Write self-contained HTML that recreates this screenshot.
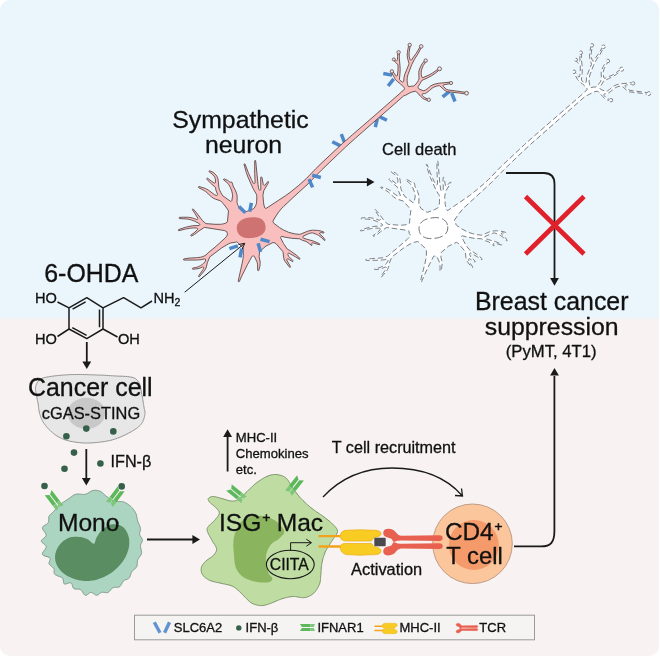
<!DOCTYPE html>
<html lang="en"><head><meta charset="utf-8"><title>Graphical abstract</title>
<style>
html,body{margin:0;padding:0;background:#fff}
body{width:660px;height:656px;overflow:hidden}
svg{display:block;will-change:transform}
text{font-family:"Liberation Sans",sans-serif;fill:#111;stroke:#111;stroke-width:0.3px}
</style></head><body>
<svg width="660" height="656" viewBox="0 0 660 656">
<defs>
<clipPath id="card"><rect x="0" y="0" width="659" height="656" rx="10" ry="10"/></clipPath>
<linearGradient id="bg" x1="0" y1="0" x2="0" y2="656" gradientUnits="userSpaceOnUse"><stop offset="0" stop-color="#eaf5fc"/><stop offset="0.4832" stop-color="#eaf5fc"/><stop offset="0.4880" stop-color="#f8f2f2"/><stop offset="1" stop-color="#f8f2f2"/></linearGradient>

</defs>
<rect x="0" y="0" width="660" height="656" fill="url(#bg)" clip-path="url(#card)"/>
<g><line x1="383.3" y1="73.5" x2="392.1" y2="75.1" stroke="#4f88c8" stroke-width="3.5"/><line x1="388.1" y1="86.0" x2="393.7" y2="78.9" stroke="#4f88c8" stroke-width="3.5"/><line x1="442.6" y1="96.9" x2="449.6" y2="91.3" stroke="#4f88c8" stroke-width="3.5"/><line x1="451.7" y1="93.2" x2="455.0" y2="101.5" stroke="#4f88c8" stroke-width="3.5"/><line x1="375.3" y1="127.1" x2="377.4" y2="118.3" stroke="#4f88c8" stroke-width="3.5"/><line x1="378.9" y1="116.4" x2="386.9" y2="120.3" stroke="#4f88c8" stroke-width="3.5"/><line x1="332.3" y1="141.8" x2="340.5" y2="145.9" stroke="#4f88c8" stroke-width="3.5"/><line x1="341.3" y1="134.1" x2="344.5" y2="142.5" stroke="#4f88c8" stroke-width="3.5"/></g>
<path d="M196.7 228.0L197.2 228.2L197.5 228.6L197.6 229.1L197.4 229.7L194.0 232.9L190.9 235.0L190.7 235.4L191.0 235.9L191.5 236.0L194.5 234.4L199.1 230.9L204.1 227.5L204.6 227.4L224.2 230.5L226.7 231.5L227.0 232.0L227.0 233.0L227.6 234.1L226.7 236.2L225.0 238.2L215.0 247.2L208.2 252.7L205.9 255.1L203.1 256.5L200.8 257.2L196.4 257.7L189.1 258.1L183.9 258.9L183.5 259.1L183.4 259.8L184.0 260.1L197.4 260.0L201.2 259.7L204.6 258.9L205.5 259.2L205.7 260.0L205.0 261.8L203.8 263.2L202.4 264.4L200.4 265.7L198.7 266.6L196.6 267.3L192.8 268.1L192.3 268.5L192.4 269.0L192.8 269.3L195.6 269.0L199.4 268.4L202.6 267.0L203.2 267.0L203.7 267.4L203.8 268.1L203.2 269.3L198.5 276.1L198.5 276.5L198.8 276.8L199.4 276.7L201.4 274.4L204.3 270.9L205.6 269.1L206.4 266.9L207.3 262.8L209.8 256.9L221.7 247.9L226.1 245.2L228.8 243.7L230.9 242.9L235.2 242.3L236.5 241.9L237.2 242.2L243.0 248.0L243.3 248.7L243.2 250.0L243.4 255.3L243.1 258.4L242.2 263.1L238.9 277.9L238.2 281.3L238.6 281.8L239.0 281.9L239.3 281.6L241.9 275.8L247.7 264.2L251.9 256.6L252.4 256.1L253.6 255.9L254.3 256.3L256.5 260.9L257.2 262.5L257.5 264.2L257.7 270.3L258.2 270.8L258.7 270.6L259.8 266.7L260.2 263.6L260.0 261.1L259.1 256.8L259.6 251.6L266.0 246.0L273.0 242.5L274.7 242.9L276.1 243.7L282.9 251.7L283.1 252.2L283.6 257.2L284.2 259.9L285.3 261.7L289.5 267.2L289.9 267.4L290.3 267.3L290.6 267.0L290.5 266.6L286.8 260.2L286.8 259.4L287.3 258.9L288.1 258.9L292.5 261.6L293.0 261.4L293.2 260.9L288.6 256.3L287.8 254.3L287.8 253.8L288.1 253.4L288.6 253.2L289.2 253.3L295.5 256.8L299.3 259.2L299.9 259.1L300.1 258.6L296.1 254.9L290.1 250.7L287.2 249.0L283.5 243.5L280.6 237.8L280.6 237.1L280.9 236.6L281.7 236.4L285.1 237.2L291.9 238.3L299.6 238.8L302.8 240.5L306.1 241.4L308.5 243.1L311.6 245.5L312.0 245.4L312.1 245.0L311.7 244.2L311.7 243.5L312.0 243.1L312.5 242.8L319.2 244.7L319.7 244.6L319.8 244.1L319.5 243.7L313.3 241.0L306.1 239.0L303.9 238.2L303.1 237.8L302.8 237.4L302.8 236.8L303.0 236.3L308.2 233.8L310.5 233.1L312.4 232.8L316.5 234.3L318.6 235.4L321.9 237.9L324.3 240.5L324.9 240.4L325.1 239.9L323.0 236.9L319.7 233.9L319.7 233.0L320.4 232.5L323.5 233.0L324.0 232.8L324.0 232.4L323.8 232.0L321.5 231.2L317.8 230.4L312.4 230.2L310.0 230.6L307.4 231.3L299.8 234.4L294.3 233.8L288.6 232.3L283.5 230.0L279.4 227.5L273.7 223.1L273.0 221.9L272.9 221.3L274.7 218.0L278.6 212.1L281.2 208.9L283.7 206.4L293.1 197.5L308.0 183.9L321.8 169.8L345.5 147.1L355.6 138.0L403.8 95.8L405.2 95.4L411.2 92.2L415.3 91.2L416.3 91.6L420.4 96.2L422.5 98.2L424.5 99.4L426.8 100.2L427.2 100.2L427.7 99.7L427.6 99.0L424.9 97.7L423.6 96.8L422.1 95.2L422.0 94.6L422.3 94.1L422.8 93.7L424.6 93.6L426.3 92.9L429.3 90.7L432.1 88.2L433.9 87.1L436.4 86.2L439.0 85.6L439.7 85.8L445.0 90.6L446.1 91.2L447.4 91.7L459.2 93.0L464.4 93.8L465.2 93.4L465.2 92.6L464.7 92.2L461.5 91.7L448.5 90.0L446.4 89.3L443.3 86.4L443.1 85.9L443.1 85.3L443.8 84.8L449.9 83.7L450.2 83.3L450.3 82.8L450.0 82.4L449.6 82.2L438.3 83.3L434.0 84.3L431.0 85.7L427.2 88.9L425.4 90.1L424.0 90.7L423.1 90.7L418.7 88.8L418.4 88.4L418.1 87.3L418.1 86.6L420.1 83.6L421.7 80.5L427.1 78.1L431.5 75.8L435.2 73.3L438.0 71.1L438.3 70.7L438.3 70.2L438.0 69.8L437.2 69.8L432.7 72.9L429.9 74.6L423.1 77.6L422.1 77.5L421.8 76.9L421.3 74.4L421.2 72.4L421.4 70.8L422.0 68.5L423.3 65.5L425.8 61.8L425.7 61.1L425.1 60.7L424.4 60.9L422.0 64.0L420.7 66.3L419.6 69.0L419.0 70.8L418.8 72.3L419.0 78.8L418.4 80.4L417.5 82.0L416.0 84.0L413.9 86.0L411.2 86.2L409.0 86.7L408.3 86.5L408.0 86.0L407.4 83.5L407.1 80.5L407.3 77.3L407.9 74.8L411.8 64.5L414.5 59.2L418.1 53.7L421.3 47.5L421.2 47.1L420.8 46.7L420.3 46.7L419.9 47.0L416.2 53.4L413.6 56.8L411.7 59.9L411.3 60.2L410.8 60.2L410.4 60.0L410.1 59.7L409.1 56.1L409.1 52.6L410.1 46.5L409.7 45.8L408.9 45.8L408.5 46.3L407.8 49.9L407.4 52.5L407.2 55.2L407.5 58.2L409.1 63.8L404.6 74.8L404.0 77.6L403.7 81.2L403.4 81.7L402.8 82.1L402.2 81.9L399.7 80.1L399.4 79.5L400.0 73.1L400.2 68.7L399.3 57.9L399.4 53.4L399.3 53.0L398.9 52.7L398.2 52.8L397.8 53.3L397.5 56.7L397.6 59.6L397.4 60.2L396.9 60.6L396.3 60.5L394.4 59.2L393.8 59.4L393.5 59.9L393.7 60.5L396.3 63.0L398.0 64.9L398.0 70.2L397.4 75.6L396.7 76.0L395.9 75.8L394.0 73.0L392.5 71.1L391.6 71.0L391.1 71.7L391.2 72.2L395.4 79.3L397.2 81.4L400.5 83.9L404.2 87.7L404.6 88.7L404.4 89.4L402.3 91.0L401.4 92.1L395.1 97.6L373.1 116.9L352.7 134.5L342.1 143.8L321.0 163.6L315.9 168.6L306.2 178.7L298.9 185.3L291.0 191.7L285.7 195.6L266.3 208.3L265.5 208.4L264.9 208.0L263.9 205.0L263.6 202.9L262.9 195.4L263.8 190.7L268.6 182.4L268.7 182.0L268.3 181.5L267.8 181.6L265.0 185.1L264.3 185.4L263.8 185.2L263.3 184.6L261.9 177.3L261.5 176.9L260.9 177.0L260.7 177.5L260.8 189.3L260.6 189.8L260.1 190.0L259.4 190.0L258.9 189.7L258.6 188.7L258.0 184.3L255.7 161.0L255.5 160.5L254.9 160.5L254.7 161.0L254.7 173.4L255.1 182.6L254.9 183.2L254.4 183.5L253.9 183.5L253.3 183.2L251.5 179.7L248.6 173.4L245.0 164.0L244.4 163.8L244.0 164.2L246.3 172.6L248.0 177.2L253.2 188.8L256.6 194.6L256.8 196.6L256.7 201.2L256.4 203.4L255.9 205.1L254.2 208.2L253.0 209.0L245.4 211.9L244.6 211.7L240.0 208.9L237.7 204.8L237.0 202.5L237.2 197.3L236.9 194.5L235.7 191.0L233.0 185.9L232.6 184.1L231.9 182.2L231.4 182.0L230.6 182.3L230.0 182.2L227.5 180.3L224.3 178.9L223.8 178.9L223.5 179.3L223.6 179.9L226.8 182.3L228.9 184.8L230.3 187.3L231.8 191.1L232.5 194.3L232.6 196.1L231.8 200.6L231.4 201.1L230.8 201.3L230.2 201.1L224.1 196.7L222.8 195.9L220.9 192.8L219.3 189.3L218.8 186.9L218.0 179.1L217.6 177.8L216.8 176.1L215.2 174.1L213.1 172.3L209.8 170.8L209.2 170.9L209.0 171.4L209.1 171.8L211.9 173.8L214.0 176.1L214.8 177.2L215.4 179.4L215.5 182.6L214.9 183.1L214.1 183.1L207.5 178.2L206.9 178.3L206.7 179.0L210.5 183.1L215.4 187.3L216.1 190.8L217.6 194.3L217.4 195.0L217.0 195.4L216.4 195.5L214.2 194.5L208.3 190.0L205.2 188.4L199.1 186.5L198.5 186.7L198.4 187.3L198.7 187.7L203.2 190.0L205.8 191.6L211.2 196.6L213.2 198.1L215.5 199.2L220.6 200.8L223.1 203.5L226.6 207.9L228.5 210.9L227.4 221.8L227.0 222.4L225.2 223.3L223.2 223.9L220.6 224.3L215.0 224.3L205.9 223.6L202.5 220.7L196.7 212.9L193.3 209.1L192.9 208.9L192.4 209.2L192.4 209.7L195.3 214.0L197.7 218.1L197.8 218.7L197.4 219.4L196.6 219.5L192.3 217.9L188.4 217.3L183.6 217.2L179.4 217.4L179.0 217.7L179.0 218.2L179.4 218.6L185.9 218.9L188.8 219.3L191.7 220.1L194.6 221.2L198.2 223.0L199.4 223.7L199.8 224.6L199.5 225.1L199.0 225.5L192.8 225.7L185.7 227.2L178.5 229.6L178.2 230.1L178.5 230.6L178.9 230.7L185.3 229.1L189.7 228.3L193.6 227.9Z" fill="#f9bfbf" stroke="#5b4b4b" stroke-width="0.9" stroke-linejoin="round"/>
<circle cx="391.9" cy="71.4" r="1.7" fill="#f4dede" stroke="#5b4b4b" stroke-width="0.8"/>
<circle cx="398.6" cy="52.3" r="1.7" fill="#f4dede" stroke="#5b4b4b" stroke-width="0.8"/>
<circle cx="393.8" cy="59.4" r="1.5" fill="#f4dede" stroke="#5b4b4b" stroke-width="0.8"/>
<circle cx="409.7" cy="44.9" r="1.7" fill="#f4dede" stroke="#5b4b4b" stroke-width="0.8"/>
<circle cx="421.2" cy="46.4" r="1.8" fill="#f4dede" stroke="#5b4b4b" stroke-width="0.8"/>
<circle cx="425.7" cy="60.6" r="1.7" fill="#f4dede" stroke="#5b4b4b" stroke-width="0.8"/>
<circle cx="439.5" cy="68.8" r="2.0" fill="#f4dede" stroke="#5b4b4b" stroke-width="0.8"/>
<circle cx="451.0" cy="83.0" r="1.6" fill="#f4dede" stroke="#5b4b4b" stroke-width="0.8"/>
<circle cx="466.6" cy="93.2" r="1.9" fill="#f4dede" stroke="#5b4b4b" stroke-width="0.8"/>
<circle cx="428.8" cy="99.8" r="1.7" fill="#f4dede" stroke="#5b4b4b" stroke-width="0.8"/>
<path d="M265.5 225.9L265.6 227.4L265.5 228.6L265.3 229.7L265.0 230.8L264.5 231.7L263.9 232.7L263.1 233.6L262.2 234.4L261.2 235.1L260.1 235.8L258.9 236.3L257.5 236.9L256.1 237.3L254.5 237.6L252.5 237.9L250.4 238.1L248.8 238.2L247.3 238.1L245.8 238.0L244.5 237.7L243.2 237.3L242.1 236.8L241.0 236.3L240.1 235.6L239.3 234.8L238.6 234.0L238.0 233.1L237.5 232.0L237.2 230.9L236.9 229.5L236.8 228.0L236.9 226.8L237.1 225.7L237.4 224.6L237.9 223.7L238.5 222.7L239.3 221.8L240.2 221.0L241.2 220.3L242.3 219.6L243.5 219.1L244.9 218.5L246.3 218.1L247.9 217.8L249.9 217.5L252.0 217.3L253.6 217.2L255.1 217.3L256.6 217.4L257.9 217.7L259.2 218.1L260.3 218.6L261.4 219.1L262.3 219.8L263.1 220.6L263.8 221.4L264.4 222.3L264.9 223.4L265.2 224.5Z" fill="#cf7272"/>
<g><line x1="309.0" y1="179.1" x2="312.6" y2="187.4" stroke="#4f88c8" stroke-width="3.5"/><line x1="312.2" y1="175.2" x2="320.8" y2="177.5" stroke="#4f88c8" stroke-width="3.5"/><line x1="239.0" y1="206.4" x2="245.3" y2="212.7" stroke="#4f88c8" stroke-width="3.5"/><line x1="251.4" y1="202.8" x2="249.7" y2="211.6" stroke="#4f88c8" stroke-width="3.5"/><line x1="260.5" y1="239.3" x2="269.6" y2="241.6" stroke="#4f88c8" stroke-width="3.5"/><line x1="258.1" y1="243.3" x2="260.6" y2="252.0" stroke="#4f88c8" stroke-width="3.5"/><line x1="229.4" y1="248.7" x2="237.9" y2="245.8" stroke="#4f88c8" stroke-width="3.5"/><line x1="241.7" y1="248.6" x2="240.0" y2="257.4" stroke="#4f88c8" stroke-width="3.5"/></g>
<g transform="translate(182.2 0.4)"><path d="M197.2 227.8L197.7 228.0L198.0 228.4L198.1 228.9L198.0 229.4L194.1 233.0L191.0 235.0L190.8 235.4L191.0 235.8L191.5 235.9L194.5 234.4L198.5 231.2L203.9 227.4L205.0 227.1L223.3 229.7L225.8 230.2L226.5 230.5L226.9 230.9L227.0 233.0L228.1 234.4L228.3 234.9L228.1 235.5L227.1 236.8L224.8 239.2L214.5 248.1L208.5 253.0L206.4 255.1L205.2 255.8L202.7 256.9L200.8 257.4L196.5 257.8L189.1 258.2L183.9 259.0L183.6 259.2L183.5 259.7L184.0 260.0L197.5 259.8L201.9 259.4L204.9 258.5L205.8 258.8L206.1 259.6L205.4 261.4L204.4 262.9L203.0 264.2L200.6 265.8L198.8 266.7L196.7 267.4L192.8 268.2L192.4 268.5L192.5 269.0L192.9 269.2L196.9 268.8L200.4 267.8L202.9 266.6L203.5 266.6L204.0 266.9L204.2 267.6L203.7 268.8L198.6 276.1L198.6 276.4L198.8 276.7L199.3 276.6L201.3 274.3L204.2 270.9L205.4 269.0L206.3 266.8L207.1 262.7L209.6 256.6L220.8 248.0L225.1 245.2L230.2 242.4L231.9 241.9L235.3 241.1L235.9 241.3L237.1 242.1L243.9 248.9L244.2 249.6L244.2 255.0L243.7 258.4L242.7 263.2L239.0 278.0L238.3 281.2L238.6 281.8L239.0 281.8L239.3 281.5L241.4 276.4L246.9 264.6L251.4 255.9L252.2 255.6L253.0 256.0L253.9 255.6L254.4 255.9L254.7 256.2L256.8 260.7L257.5 262.8L257.9 266.0L257.8 270.3L258.1 270.7L258.5 270.7L258.8 270.3L259.5 267.2L259.9 263.6L259.8 261.2L258.7 256.8L259.0 252.1L266.0 246.0L274.0 242.0L274.6 242.0L275.3 242.4L276.5 243.3L283.1 251.3L283.7 257.0L284.4 259.8L285.1 261.1L289.6 267.1L290.2 267.3L290.5 267.0L290.5 266.6L286.5 260.2L286.2 259.4L286.3 258.8L286.8 258.4L287.5 258.3L292.4 261.5L292.9 261.4L293.1 260.9L288.5 256.4L287.4 253.9L287.4 253.3L287.7 252.9L288.2 252.6L288.8 252.7L295.6 256.7L299.3 259.2L299.8 259.1L300.0 258.5L297.4 256.1L295.5 254.6L289.5 250.6L286.8 249.0L283.1 243.7L281.1 239.8L279.3 236.9L279.2 236.2L279.5 235.7L280.3 235.4L285.2 236.7L291.9 237.9L299.4 238.4L302.9 240.3L306.1 241.2L308.6 243.0L311.6 245.5L311.9 245.3L312.0 244.9L311.4 244.0L311.3 243.4L311.5 242.9L312.1 242.6L319.2 244.6L319.6 244.5L319.7 244.1L319.5 243.8L313.2 241.2L306.0 239.2L303.8 238.4L302.4 237.5L302.3 236.8L302.6 236.2L308.1 233.6L310.0 233.0L312.3 232.5L316.5 234.1L318.2 235.0L321.6 237.5L324.3 240.4L324.8 240.4L325.0 239.9L322.8 236.9L319.2 233.7L319.2 232.9L319.9 232.3L323.5 233.0L323.9 232.7L323.9 232.3L323.7 232.1L321.1 231.2L316.8 230.5L314.2 230.4L311.9 230.5L309.5 230.9L306.7 231.7L299.7 234.8L294.9 234.3L290.0 233.2L284.8 231.3L279.6 228.5L274.3 224.9L273.9 224.5L273.5 223.0L272.3 220.3L272.3 219.7L277.1 212.7L281.8 207.3L307.7 183.6L321.5 169.5L337.9 153.7L348.6 143.7L403.7 95.3L405.0 95.0L411.0 91.8L412.8 91.2L415.2 90.8L416.3 91.3L420.5 96.1L422.6 98.1L424.6 99.3L427.2 100.1L427.6 99.7L427.5 99.1L424.8 97.9L423.4 96.8L421.7 94.9L421.6 94.3L421.8 93.8L422.4 93.4L424.0 93.5L425.7 92.9L428.7 90.9L431.6 88.4L432.9 87.5L435.7 86.2L439.1 85.4L439.8 85.6L445.0 90.4L446.1 91.1L447.4 91.5L459.2 92.9L464.5 93.7L465.1 93.4L465.1 92.7L464.7 92.3L461.5 91.8L447.8 90.0L446.0 89.1L442.8 86.1L442.8 85.3L443.4 84.7L449.8 83.6L450.1 83.3L450.2 82.8L450.0 82.5L449.5 82.3L438.4 83.5L434.0 84.5L431.2 85.9L427.3 89.1L425.5 90.4L424.0 91.0L423.0 90.9L418.4 88.9L418.0 88.5L417.6 87.4L417.7 86.7L419.8 83.6L421.5 80.4L426.3 78.3L431.4 75.7L434.4 73.7L437.9 71.0L438.2 70.7L437.9 70.0L437.2 69.9L432.8 73.1L430.0 74.8L423.1 77.7L422.5 77.9L421.9 77.7L421.6 77.1L421.1 74.4L421.0 72.4L421.2 70.7L421.9 68.4L423.2 65.4L425.6 61.7L425.6 61.1L425.1 60.8L424.5 61.0L422.2 64.1L420.9 66.4L419.7 69.1L419.2 70.8L419.0 72.4L419.2 78.9L418.6 80.5L417.7 82.1L416.2 84.2L413.8 86.5L411.0 86.7L408.8 87.3L408.1 87.0L407.8 86.5L407.3 84.4L406.9 81.2L406.9 78.0L407.6 74.7L411.4 64.7L414.3 59.1L418.0 53.7L421.2 47.5L421.1 47.1L420.7 46.9L420.3 46.8L420.0 47.1L416.7 52.9L413.7 56.9L411.8 60.2L411.3 60.6L410.8 60.6L410.3 60.5L410.0 60.0L409.0 56.1L409.0 52.6L410.0 46.5L409.7 45.9L409.0 45.9L408.6 46.3L407.8 50.8L407.5 53.2L407.4 55.7L407.8 58.9L409.3 63.8L404.9 74.9L404.3 77.7L404.0 81.7L403.7 82.2L403.2 82.5L402.5 82.5L399.5 80.2L399.2 79.6L399.9 73.1L400.0 69.5L399.8 64.5L399.1 58.0L399.3 53.5L398.8 52.9L398.3 52.9L397.9 53.4L397.7 56.7L397.8 59.9L397.6 60.5L397.1 60.8L396.4 60.9L394.4 59.4L393.9 59.5L393.7 60.0L393.8 60.4L396.4 62.9L398.1 64.9L398.1 71.0L397.7 75.0L397.5 76.2L396.7 76.6L395.9 76.3L394.2 73.5L392.4 71.2L391.7 71.1L391.3 71.8L391.4 72.2L395.5 79.2L397.3 81.2L400.6 83.8L404.6 87.7L405.0 88.9L404.7 89.6L402.6 91.3L401.9 92.2L392.0 100.9L352.9 134.8L342.4 144.1L318.5 166.5L306.5 179.0L301.1 183.9L295.2 188.9L287.7 194.9L265.8 210.0L265.0 210.1L264.4 209.6L263.4 206.1L263.0 203.8L262.5 196.1L263.6 190.7L268.5 182.4L268.6 182.0L268.3 181.6L267.8 181.7L264.8 185.5L264.3 185.8L263.6 185.7L263.2 185.0L261.8 177.3L261.4 177.0L260.9 177.1L260.8 177.5L261.1 187.8L261.0 189.8L260.7 190.4L260.2 190.6L259.3 190.5L258.8 190.2L258.4 188.7L257.6 182.6L255.7 161.0L255.5 160.6L255.0 160.6L254.7 161.0L254.9 173.4L255.4 183.6L255.2 184.1L254.6 184.5L254.0 184.5L253.5 184.1L250.5 178.1L247.9 172.0L244.9 164.1L244.4 163.9L244.1 164.2L246.5 172.5L248.2 177.1L253.4 188.7L254.9 191.5L257.1 195.0L257.3 196.6L257.3 201.3L257.1 203.6L256.6 205.5L255.7 207.5L253.0 209.0L245.4 211.9L244.6 211.7L238.9 208.2L237.6 205.8L236.9 204.2L236.6 202.7L236.8 197.3L236.5 194.7L235.4 191.1L232.8 186.1L232.5 184.1L231.8 182.2L231.4 182.1L230.5 182.5L230.0 182.4L226.9 180.2L224.2 179.0L223.9 179.0L223.6 179.3L223.7 179.9L226.9 182.2L229.0 184.7L230.5 187.2L232.1 191.1L232.9 194.2L233.0 196.2L232.0 201.6L231.7 202.1L231.0 202.3L230.5 202.1L223.9 197.0L222.8 196.4L220.6 192.9L219.0 189.3L218.5 187.0L218.0 180.3L217.5 178.0L217.1 177.0L215.6 174.8L213.1 172.5L209.8 170.9L209.2 171.0L209.1 171.4L209.2 171.8L212.0 173.7L214.2 176.0L214.9 177.1L215.7 179.4L215.7 183.0L215.2 183.6L214.4 183.5L207.6 178.3L207.0 178.4L206.8 179.0L210.7 183.0L215.7 187.2L216.4 190.8L218.1 194.7L218.0 195.6L217.5 195.9L217.0 196.0L214.8 195.2L213.0 194.1L208.2 190.2L205.1 188.5L199.1 186.6L198.6 186.7L198.5 187.3L198.8 187.6L203.3 189.8L205.9 191.4L211.3 196.4L213.5 197.9L215.8 199.0L221.0 200.6L226.7 206.9L228.2 208.9L228.7 209.9L228.0 215.0L227.3 222.7L226.8 223.4L225.1 224.0L222.6 224.5L219.9 224.8L214.2 224.6L205.9 223.9L203.6 222.1L202.3 220.8L196.6 213.0L193.0 209.0L192.5 209.2L192.5 209.8L195.4 213.9L198.2 218.6L198.3 219.2L197.8 219.8L197.1 219.9L192.3 218.1L188.4 217.4L183.6 217.3L179.4 217.5L179.1 217.7L179.0 218.2L179.4 218.5L185.9 218.7L188.9 219.2L191.7 219.9L194.6 221.0L198.3 222.8L200.1 223.9L200.4 224.7L200.2 225.2L199.6 225.6L197.3 225.8L192.8 225.9L185.8 227.3L178.6 229.6L178.3 230.1L178.5 230.5L178.9 230.6L185.3 228.9L189.7 228.1L193.6 227.7Z" fill="#ffffff" stroke="#6b7278" stroke-width="0.9" stroke-dasharray="5.5 2.8"/>
<circle cx="391.9" cy="71.4" r="1.7" fill="#fff" stroke="#6b7278" stroke-width="0.9" stroke-dasharray="3.5 2.5"/>
<circle cx="398.6" cy="52.3" r="1.7" fill="#fff" stroke="#6b7278" stroke-width="0.9" stroke-dasharray="3.5 2.5"/>
<circle cx="393.8" cy="59.4" r="1.5" fill="#fff" stroke="#6b7278" stroke-width="0.9" stroke-dasharray="3.5 2.5"/>
<circle cx="409.7" cy="44.9" r="1.7" fill="#fff" stroke="#6b7278" stroke-width="0.9" stroke-dasharray="3.5 2.5"/>
<circle cx="421.2" cy="46.4" r="1.8" fill="#fff" stroke="#6b7278" stroke-width="0.9" stroke-dasharray="3.5 2.5"/>
<circle cx="425.7" cy="60.6" r="1.7" fill="#fff" stroke="#6b7278" stroke-width="0.9" stroke-dasharray="3.5 2.5"/>
<circle cx="439.5" cy="68.8" r="2.0" fill="#fff" stroke="#6b7278" stroke-width="0.9" stroke-dasharray="3.5 2.5"/>
<circle cx="451.0" cy="83.0" r="1.6" fill="#fff" stroke="#6b7278" stroke-width="0.9" stroke-dasharray="3.5 2.5"/>
<circle cx="466.6" cy="93.2" r="1.9" fill="#fff" stroke="#6b7278" stroke-width="0.9" stroke-dasharray="3.5 2.5"/>
<circle cx="428.8" cy="99.8" r="1.7" fill="#fff" stroke="#6b7278" stroke-width="0.9" stroke-dasharray="3.5 2.5"/>
<path d="M265.5 225.9L265.6 227.4L265.5 228.6L265.3 229.7L265.0 230.8L264.5 231.7L263.9 232.7L263.1 233.6L262.2 234.4L261.2 235.1L260.1 235.8L258.9 236.3L257.5 236.9L256.1 237.3L254.5 237.6L252.5 237.9L250.4 238.1L248.8 238.2L247.3 238.1L245.8 238.0L244.5 237.7L243.2 237.3L242.1 236.8L241.0 236.3L240.1 235.6L239.3 234.8L238.6 234.0L238.0 233.1L237.5 232.0L237.2 230.9L236.9 229.5L236.8 228.0L236.9 226.8L237.1 225.7L237.4 224.6L237.9 223.7L238.5 222.7L239.3 221.8L240.2 221.0L241.2 220.3L242.3 219.6L243.5 219.1L244.9 218.5L246.3 218.1L247.9 217.8L249.9 217.5L252.0 217.3L253.6 217.2L255.1 217.3L256.6 217.4L257.9 217.7L259.2 218.1L260.3 218.6L261.4 219.1L262.3 219.8L263.1 220.6L263.8 221.4L264.4 222.3L264.9 223.4L265.2 224.5Z" fill="none" stroke="#6b7278" stroke-width="1" stroke-dasharray="8.5 3.2"/></g>
<text x="240.5" y="128.3" font-size="24.8" text-anchor="middle" >Sympathetic</text>
<text x="243.5" y="152.7" font-size="24.8" text-anchor="middle" >neuron</text>
<text x="419.2" y="155.0" font-size="16.5" text-anchor="middle" >Cell death</text>
<text x="91.3" y="281.6" font-size="24.9" text-anchor="middle" >6-OHDA</text>
<g stroke="#1a1a1a" stroke-width="1.8" fill="none">
<path d="M333 182.1H368"/>
<path d="M506 173H544Q554.5 173 554.5 184V278"/>
<path d="M554.4 376V531C554.4 542 551 546.4 541 546.4H514"/>
<path d="M86.8 342V362"/>
<path d="M86.3 449V478"/>
<path d="M147 539.5H193"/>
<path d="M227.6 471.5V437"/>
</g>
<path transform="translate(374.5 182.1) rotate(0.0)" d="M0 0L-7.6 -4.4L-7.6 4.4Z" fill="#1a1a1a"/>
<path transform="translate(554.5 285.7) rotate(90.0)" d="M0 0L-7.6 -4.4L-7.6 4.4Z" fill="#1a1a1a"/>
<path transform="translate(554.5 368.0) rotate(-90.0)" d="M0 0L-7.6 -4.4L-7.6 4.4Z" fill="#1a1a1a"/>
<path transform="translate(86.8 369.0) rotate(90.0)" d="M0 0L-7.6 -4.4L-7.6 4.4Z" fill="#1a1a1a"/>
<path transform="translate(86.3 485.5) rotate(90.0)" d="M0 0L-7.6 -4.4L-7.6 4.4Z" fill="#1a1a1a"/>
<path transform="translate(200.0 539.5) rotate(0.0)" d="M0 0L-7.6 -4.4L-7.6 4.4Z" fill="#1a1a1a"/>
<path transform="translate(227.6 429.3) rotate(-90.0)" d="M0 0L-7.6 -4.4L-7.6 4.4Z" fill="#1a1a1a"/>
<path d="M184.7 292.2L244.5 243.5M238.5 244.5L244.8 243.3L242.3 249" stroke="#1a1a1a" stroke-width="1" fill="none"/>
<path d="M525.5 196.5L584 254M584 196.5L525.5 254" stroke="#e0212b" stroke-width="4.7" fill="none"/>
<text x="551.7" y="310.0" font-size="24.9" text-anchor="middle" >Breast cancer</text>
<text x="551.7" y="335.0" font-size="24.8" text-anchor="middle" >suppression</text>
<text x="551.2" y="357.1" font-size="16.7" text-anchor="middle" >(PyMT, 4T1)</text>
<g stroke="#1a1a1a" stroke-width="1.5" fill="none" stroke-linejoin="round">
<path d="M86.8 297.7L69 307.8V329L86.8 338.6L103 329V307.8Z"/>
<path d="M85.6 301.8L72.6 309.2M99.5 309.5V327.3M72.3 327.6L86.6 335.3"/>
<path d="M103 307.8L123.6 297.7L141 307.8L152 301"/>
<path d="M69 307.8L57.5 302M69 329L57.5 336.5M103 329L117.5 337"/>
</g>
<text x="35.0" y="303.2" font-size="14.6" text-anchor="start" >HO</text>
<text x="35.0" y="344.2" font-size="14.6" text-anchor="start" >HO</text>
<text x="118.0" y="344.2" font-size="14.6" text-anchor="start" >OH</text>
<text x="153.4" y="303.2" font-size="14.6">NH<tspan font-size="10.5" dy="3">2</tspan></text>
<path d="M35.9 385.8L36.2 385.1L36.4 384.4L36.8 383.6L37.1 382.9L37.5 382.1L38.0 381.4L38.6 380.7L39.3 380.0L40.0 379.4L40.9 378.9L41.9 378.4L43.0 378.0L44.2 377.7L45.5 377.3L46.9 377.1L48.3 376.8L49.8 376.6L51.4 376.3L53.0 376.1L54.7 375.9L56.4 375.7L58.3 375.5L60.2 375.3L62.2 375.1L64.2 375.0L66.3 374.9L68.4 374.7L70.4 374.6L72.5 374.6L74.5 374.5L76.5 374.5L78.5 374.5L80.5 374.5L82.5 374.5L84.4 374.6L86.4 374.6L88.4 374.7L90.4 374.8L92.4 374.8L94.4 374.9L96.4 375.0L98.4 375.1L100.4 375.1L102.4 375.2L104.4 375.3L106.4 375.4L108.4 375.6L110.4 375.7L112.3 375.8L114.2 375.9L116.1 376.0L118.1 376.1L120.0 376.2L122.0 376.2L123.9 376.3L125.8 376.4L127.5 376.6L129.2 376.8L130.7 377.0L132.0 377.3L133.2 377.7L134.2 378.0L135.0 378.4L135.8 378.9L136.4 379.4L137.0 379.9L137.5 380.6L138.0 381.2L138.5 382.0L139.0 382.8L139.5 383.7L139.9 384.8L140.2 385.9L140.5 387.1L140.8 388.3L141.0 389.6L141.2 390.9L141.4 392.2L141.7 393.5L141.9 394.7L142.1 395.9L142.4 397.1L142.6 398.4L142.8 399.7L143.0 400.9L143.2 402.1L143.4 403.3L143.6 404.5L143.7 405.6L143.9 406.6L144.1 407.5L144.2 408.4L144.4 409.2L144.6 409.9L144.8 410.7L144.9 411.4L145.0 412.1L145.0 412.8L145.0 413.6L144.9 414.5L144.7 415.4L144.5 416.4L144.3 417.4L144.0 418.4L143.6 419.5L143.2 420.6L142.8 421.6L142.2 422.6L141.6 423.6L140.9 424.5L140.1 425.4L139.2 426.2L138.3 427.1L137.3 427.9L136.2 428.6L135.0 429.4L133.8 430.2L132.6 430.9L131.3 431.7L130.0 432.4L128.6 433.1L127.2 433.9L125.6 434.7L124.0 435.4L122.4 436.2L120.8 436.9L119.1 437.5L117.4 438.2L115.8 438.8L114.2 439.3L112.6 439.8L111.0 440.2L109.4 440.6L107.8 440.9L106.3 441.2L104.7 441.5L103.1 441.7L101.5 441.9L99.9 442.1L98.3 442.3L96.7 442.5L95.1 442.6L93.6 442.8L92.0 442.9L90.4 442.9L88.8 443.0L87.2 443.0L85.7 443.0L84.1 443.0L82.5 442.9L80.9 442.8L79.3 442.6L77.6 442.5L76.0 442.2L74.3 442.0L72.7 441.7L71.1 441.4L69.5 441.1L68.0 440.7L66.6 440.3L65.2 439.9L63.9 439.4L62.7 438.9L61.5 438.4L60.3 437.8L59.1 437.2L58.0 436.6L56.9 435.9L55.8 435.2L54.7 434.4L53.6 433.6L52.5 432.7L51.4 431.7L50.4 430.7L49.3 429.7L48.3 428.7L47.3 427.6L46.4 426.6L45.6 425.5L44.8 424.5L44.1 423.5L43.5 422.5L42.9 421.6L42.3 420.6L41.9 419.6L41.4 418.6L41.0 417.6L40.6 416.6L40.3 415.6L39.9 414.5L39.6 413.4L39.3 412.2L39.1 411.0L38.9 409.8L38.7 408.6L38.6 407.4L38.4 406.2L38.3 405.0L38.1 403.8L37.9 402.7L37.7 401.6L37.5 400.5L37.2 399.5L37.0 398.4L36.8 397.4L36.6 396.4L36.4 395.4L36.2 394.5L36.0 393.6L35.9 392.7L35.8 391.9L35.7 391.1L35.6 390.4L35.5 389.7L35.5 389.1L35.4 388.4L35.5 387.8L35.5 387.1L35.7 386.5Z" fill="#e7e7e7" stroke="#8a8a8a" stroke-width="0.9"/>
<ellipse cx="86.4" cy="413.3" rx="18.8" ry="15.6" fill="#c8c8c8"/>
<text x="90.3" y="396.0" font-size="24.9" text-anchor="middle" >Cancer cell</text>
<text x="91.0" y="419.0" font-size="16.4" text-anchor="middle" >cGAS-STING</text>
<circle cx="66.4" cy="436.3" r="3.3" fill="#35604a"/>
<circle cx="86.3" cy="428.6" r="3.3" fill="#35604a"/>
<circle cx="113.3" cy="431.4" r="3.3" fill="#35604a"/>
<circle cx="74.0" cy="452.6" r="3.3" fill="#35604a"/>
<circle cx="100.4" cy="463.5" r="3.3" fill="#35604a"/>
<circle cx="64.5" cy="468.7" r="3.3" fill="#35604a"/>
<circle cx="44.5" cy="486.0" r="3.3" fill="#35604a"/>
<circle cx="121.7" cy="486.4" r="3.3" fill="#35604a"/>
<text x="110.5" y="467.0" font-size="16.2" text-anchor="start" >IFN-β</text>
<path d="M92.9 490.5L93.7 490.4L94.5 490.3L95.2 490.3L96.0 490.3L96.8 490.4L97.6 490.5L98.4 490.7L99.1 490.9L99.8 491.1L100.5 491.4L101.1 491.7L101.7 492.1L102.3 492.6L102.8 493.0L103.4 493.6L103.9 494.1L104.4 494.6L105.0 495.2L105.6 495.7L106.2 496.2L106.9 496.7L107.6 497.2L108.3 497.8L109.0 498.3L109.8 498.8L110.5 499.4L111.3 499.8L112.1 500.3L113.0 500.7L113.8 501.0L114.7 501.2L115.6 501.4L116.6 501.4L117.6 501.5L118.6 501.5L119.6 501.4L120.6 501.5L121.6 501.5L122.5 501.7L123.4 501.9L124.3 502.2L125.1 502.6L125.9 503.0L126.7 503.5L127.5 503.9L128.3 504.5L129.0 505.0L129.7 505.6L130.4 506.1L131.0 506.7L131.6 507.3L132.2 507.9L132.7 508.5L133.3 509.2L133.8 509.8L134.2 510.5L134.7 511.2L135.1 511.9L135.5 512.6L135.8 513.3L136.1 514.0L136.4 514.8L136.6 515.5L136.7 516.3L136.9 517.1L137.0 517.9L137.2 518.7L137.3 519.4L137.5 520.2L137.7 521.0L138.0 521.8L138.3 522.6L138.6 523.3L138.9 524.1L139.3 524.9L139.6 525.7L139.9 526.5L140.2 527.2L140.4 527.9L140.5 528.6L140.5 529.2L140.5 529.9L140.4 530.4L140.2 531.0L140.0 531.6L139.9 532.1L139.7 532.6L139.6 533.2L139.6 533.7L139.6 534.3L139.8 534.9L140.0 535.4L140.3 536.0L140.7 536.6L141.1 537.1L141.4 537.7L141.8 538.3L142.1 538.9L142.3 539.4L142.4 540.0L142.4 540.6L142.3 541.1L142.1 541.6L141.8 542.2L141.6 542.7L141.3 543.3L141.0 543.8L140.8 544.4L140.6 545.0L140.5 545.7L140.5 546.4L140.6 547.1L140.7 547.9L140.9 548.7L141.1 549.5L141.3 550.3L141.5 551.1L141.6 551.9L141.6 552.7L141.5 553.4L141.3 554.1L141.0 554.8L140.6 555.5L140.2 556.1L139.7 556.8L139.2 557.4L138.8 558.0L138.4 558.7L138.0 559.3L137.7 560.0L137.5 560.7L137.4 561.4L137.3 562.1L137.3 562.8L137.3 563.5L137.2 564.2L137.2 564.8L137.1 565.5L136.9 566.1L136.7 566.7L136.4 567.2L136.0 567.8L135.5 568.2L135.0 568.7L134.4 569.1L133.9 569.5L133.3 570.0L132.8 570.5L132.3 571.0L131.9 571.5L131.6 572.1L131.3 572.8L131.0 573.5L130.8 574.2L130.6 574.9L130.3 575.6L130.1 576.3L129.8 577.0L129.5 577.6L129.1 578.1L128.6 578.5L128.1 578.9L127.5 579.2L126.9 579.4L126.3 579.6L125.7 579.8L125.1 580.0L124.5 580.3L123.9 580.6L123.4 581.0L123.0 581.5L122.6 582.0L122.2 582.7L121.9 583.3L121.6 584.0L121.2 584.6L120.9 585.2L120.5 585.8L120.1 586.3L119.6 586.7L119.0 587.0L118.4 587.1L117.7 587.2L117.0 587.3L116.3 587.3L115.6 587.3L114.9 587.3L114.2 587.3L113.5 587.5L112.9 587.7L112.4 588.0L111.8 588.5L111.4 589.0L110.9 589.5L110.5 590.1L110.1 590.7L109.6 591.2L109.1 591.7L108.6 592.1L108.1 592.4L107.5 592.6L106.9 592.7L106.2 592.7L105.5 592.6L104.8 592.5L104.1 592.4L103.4 592.3L102.7 592.3L102.1 592.3L101.5 592.4L101.0 592.6L100.4 592.9L100.0 593.2L99.5 593.6L99.0 594.0L98.6 594.4L98.1 594.8L97.7 595.0L97.2 595.2L96.7 595.3L96.2 595.2L95.6 595.0L95.1 594.7L94.5 594.3L93.9 593.9L93.3 593.4L92.7 593.0L92.2 592.7L91.6 592.5L91.0 592.4L90.4 592.5L89.8 592.7L89.3 593.1L88.7 593.6L88.1 594.0L87.5 594.5L86.9 594.9L86.4 595.2L85.8 595.3L85.3 595.3L84.8 595.1L84.3 594.6L83.9 594.1L83.4 593.4L83.0 592.7L82.5 592.0L82.1 591.2L81.6 590.6L81.1 590.0L80.5 589.6L79.9 589.3L79.2 589.2L78.5 589.1L77.8 589.1L77.0 589.1L76.3 589.1L75.6 589.1L74.9 589.0L74.3 588.9L73.8 588.6L73.4 588.2L73.1 587.7L72.8 587.0L72.6 586.3L72.4 585.6L72.2 584.9L72.0 584.3L71.7 583.7L71.4 583.2L71.0 582.9L70.5 582.8L69.8 582.8L69.1 582.9L68.4 583.1L67.6 583.4L66.8 583.7L66.1 583.9L65.4 584.0L64.8 584.0L64.3 583.9L63.9 583.6L63.7 583.1L63.6 582.6L63.5 582.0L63.4 581.3L63.3 580.6L63.2 579.9L63.1 579.2L62.8 578.6L62.4 578.1L61.8 577.6L61.1 577.2L60.3 576.9L59.5 576.5L58.5 576.2L57.6 575.9L56.8 575.5L56.0 575.1L55.3 574.7L54.8 574.3L54.4 573.8L54.2 573.3L54.1 572.7L54.1 572.1L54.1 571.5L54.1 570.9L54.2 570.3L54.1 569.7L54.0 569.1L53.8 568.6L53.5 568.1L53.0 567.6L52.5 567.1L51.9 566.7L51.3 566.2L50.8 565.7L50.2 565.3L49.7 564.8L49.4 564.3L49.1 563.8L49.0 563.3L49.1 562.7L49.2 562.1L49.5 561.5L49.7 560.9L50.0 560.3L50.2 559.7L50.3 559.1L50.2 558.6L50.0 558.1L49.5 557.7L48.8 557.3L48.0 556.9L47.0 556.6L46.0 556.3L45.0 556.0L44.1 555.7L43.3 555.3L42.7 554.8L42.4 554.3L42.4 553.7L42.6 553.0L43.0 552.2L43.5 551.4L44.1 550.6L44.8 549.8L45.3 549.0L45.8 548.2L46.1 547.4L46.2 546.7L46.0 546.1L45.6 545.4L45.1 544.9L44.4 544.3L43.7 543.7L43.0 543.2L42.4 542.7L41.9 542.1L41.5 541.6L41.4 541.0L41.5 540.4L41.9 539.9L42.4 539.4L43.0 538.8L43.7 538.3L44.4 537.7L45.1 537.2L45.6 536.6L46.0 536.0L46.2 535.3L46.1 534.6L45.8 533.8L45.4 533.0L44.8 532.2L44.2 531.4L43.6 530.6L43.1 529.8L42.7 529.0L42.4 528.3L42.4 527.6L42.6 527.0L43.0 526.5L43.6 526.0L44.2 525.6L44.9 525.2L45.7 524.8L46.4 524.4L47.1 523.9L47.7 523.4L48.1 522.9L48.4 522.3L48.5 521.7L48.6 521.0L48.7 520.3L48.7 519.6L48.7 518.8L48.7 518.1L48.7 517.5L48.9 516.8L49.1 516.2L49.4 515.6L49.8 515.1L50.2 514.6L50.7 514.2L51.2 513.7L51.7 513.3L52.3 512.8L52.8 512.4L53.3 511.9L53.8 511.4L54.3 510.9L54.7 510.3L55.1 509.8L55.5 509.2L55.9 508.7L56.3 508.1L56.8 507.5L57.3 506.9L57.9 506.3L58.6 505.7L59.4 505.1L60.2 504.4L61.2 503.7L62.2 503.0L63.2 502.3L64.2 501.7L65.2 501.0L66.2 500.3L67.2 499.7L68.1 499.1L68.9 498.5L69.7 497.9L70.5 497.4L71.2 496.8L71.9 496.3L72.6 495.8L73.3 495.3L74.1 494.9L74.9 494.6L75.7 494.3L76.6 494.1L77.5 494.1L78.5 494.1L79.5 494.1L80.5 494.2L81.5 494.3L82.5 494.4L83.5 494.5L84.4 494.4L85.3 494.3L86.1 494.1L86.9 493.7L87.7 493.3L88.5 492.8L89.2 492.3L90.0 491.9L90.7 491.4L91.4 491.0L92.1 490.7Z" fill="#abd5c1" stroke="#7d988a" stroke-width="1"/>
<path d="M93.8 543.8L93.3 543.8L92.8 543.5L92.2 543.1L91.6 542.6L90.9 542.0L90.2 541.3L89.5 540.7L88.8 540.1L88.0 539.5L87.2 539.1L86.4 538.8L85.5 538.4L84.5 538.1L83.6 537.8L82.6 537.6L81.6 537.3L80.6 537.1L79.6 537.0L78.6 536.9L77.6 536.8L76.6 536.8L75.7 536.8L74.7 536.8L73.7 536.8L72.7 536.9L71.8 537.1L70.8 537.3L69.9 537.5L69.0 537.8L68.1 538.1L67.3 538.5L66.4 538.9L65.6 539.4L64.8 539.9L64.0 540.5L63.2 541.1L62.5 541.7L61.8 542.4L61.1 543.1L60.5 543.8L59.9 544.5L59.3 545.3L58.7 546.1L58.1 547.0L57.6 547.9L57.1 548.8L56.7 549.7L56.3 550.6L56.0 551.5L55.7 552.4L55.5 553.3L55.3 554.2L55.2 555.2L55.1 556.1L55.0 557.1L55.1 558.0L55.1 559.0L55.3 560.0L55.4 560.9L55.7 561.9L56.0 562.9L56.4 563.9L56.8 564.9L57.3 565.9L57.9 566.9L58.5 567.9L59.2 568.8L59.9 569.8L60.6 570.7L61.4 571.5L62.2 572.3L63.1 573.1L64.1 573.8L65.1 574.5L66.2 575.2L67.3 575.9L68.4 576.5L69.5 577.1L70.7 577.6L71.9 578.1L73.1 578.6L74.4 579.0L75.7 579.4L77.1 579.8L78.4 580.1L79.8 580.4L81.2 580.6L82.6 580.8L84.0 580.9L85.3 581.0L86.6 581.0L88.0 581.0L89.3 580.9L90.6 580.8L92.0 580.6L93.3 580.4L94.6 580.2L95.9 579.9L97.3 579.5L98.6 579.1L99.9 578.6L101.3 578.1L102.7 577.6L104.1 576.9L105.4 576.3L106.8 575.6L108.1 574.8L109.4 574.1L110.7 573.2L111.9 572.4L113.1 571.5L114.3 570.6L115.4 569.6L116.5 568.5L117.6 567.4L118.7 566.3L119.7 565.2L120.7 564.1L121.6 563.0L122.4 561.9L123.2 560.8L123.9 559.7L124.6 558.5L125.3 557.4L125.8 556.3L126.4 555.1L126.9 553.9L127.3 552.8L127.7 551.6L128.1 550.5L128.4 549.4L128.7 548.2L128.9 547.0L129.1 545.9L129.2 544.7L129.3 543.5L129.3 542.4L129.3 541.3L129.2 540.2L129.1 539.1L128.9 538.0L128.7 537.0L128.4 535.9L128.1 534.9L127.7 533.9L127.3 532.9L126.8 532.0L126.3 531.1L125.8 530.3L125.3 529.5L124.8 528.8L124.2 528.2L123.6 527.6L122.9 527.0L122.2 526.5L121.6 526.1L120.8 525.7L120.1 525.4L119.4 525.1L118.6 524.8L117.8 524.6L117.0 524.4L116.1 524.3L115.2 524.2L114.4 524.2L113.5 524.2L112.6 524.3L111.7 524.4L110.8 524.6L110.0 524.8L109.2 525.1L108.4 525.4L107.6 525.8L106.8 526.2L106.0 526.7L105.3 527.2L104.5 527.7L103.8 528.3L103.1 528.9L102.4 529.5L101.7 530.2L101.1 530.9L100.5 531.6L99.8 532.4L99.3 533.2L98.7 534.1L98.1 534.9L97.6 535.7L97.1 536.5L96.7 537.2L96.3 538.0L96.0 538.8L95.7 539.6L95.5 540.5L95.3 541.3L95.1 542.0L94.9 542.7L94.6 543.2L94.2 543.6Z" fill="#5a8d62"/>
<g transform="translate(54.1 500.4) rotate(52.5)"><path d="M-9.8 -4.3L3.7 -4.3L3.7 -0.5L-7.2 -0.5Z" fill="#5cb85a"/><path d="M3.7 -4.3L9.8 -4.3L8.2 -0.5L3.7 -0.5Z" fill="#7cc878"/><path d="M-9.8 4.3L3.7 4.3L3.7 0.5L-7.2 0.5Z" fill="#5cb85a"/><path d="M3.7 4.3L9.8 4.3L8.2 0.5L3.7 0.5Z" fill="#7cc878"/></g>
<g transform="translate(115.3 496.6) rotate(127.0)"><path d="M-9.8 -4.3L3.7 -4.3L3.7 -0.5L-7.2 -0.5Z" fill="#5cb85a"/><path d="M3.7 -4.3L9.8 -4.3L8.2 -0.5L3.7 -0.5Z" fill="#7cc878"/><path d="M-9.8 4.3L3.7 4.3L3.7 0.5L-7.2 0.5Z" fill="#5cb85a"/><path d="M3.7 4.3L9.8 4.3L8.2 0.5L3.7 0.5Z" fill="#7cc878"/></g>
<text x="88.7" y="530.8" font-size="24.6" text-anchor="middle" >Mono</text>
<path d="M208.3 498.6L208.5 498.3L208.8 498.0L209.1 497.7L209.5 497.5L210.0 497.2L210.5 497.0L211.1 496.8L211.7 496.6L212.3 496.5L212.9 496.5L213.6 496.5L214.3 496.6L215.0 496.7L215.8 496.9L216.7 497.1L217.5 497.3L218.4 497.6L219.3 497.8L220.2 498.1L221.1 498.3L222.0 498.6L223.0 498.8L224.0 499.2L225.1 499.5L226.1 499.9L227.2 500.2L228.2 500.5L229.2 500.7L230.2 500.9L231.1 501.0L231.9 501.0L232.7 501.1L233.5 501.0L234.2 501.0L235.0 500.9L235.7 500.7L236.4 500.5L237.1 500.2L237.8 499.9L238.5 499.5L239.2 499.0L239.9 498.5L240.6 497.9L241.3 497.2L242.0 496.5L242.7 495.8L243.5 495.0L244.3 494.2L245.1 493.3L246.0 492.5L247.0 491.6L248.0 490.6L249.0 489.6L250.1 488.5L251.3 487.5L252.4 486.4L253.6 485.3L254.7 484.3L255.9 483.4L257.0 482.5L258.1 481.7L259.2 480.9L260.4 480.1L261.5 479.4L262.6 478.7L263.7 478.1L264.8 477.5L265.9 476.9L267.0 476.4L268.0 476.0L269.0 475.6L269.9 475.3L270.8 475.1L271.7 474.8L272.6 474.7L273.5 474.6L274.4 474.5L275.2 474.5L276.1 474.5L277.0 474.6L277.9 474.7L278.8 474.9L279.8 475.1L280.7 475.3L281.7 475.6L282.6 476.0L283.5 476.4L284.4 476.9L285.2 477.4L286.0 478.0L286.7 478.7L287.4 479.5L288.1 480.4L288.7 481.3L289.3 482.3L289.9 483.3L290.5 484.3L291.1 485.4L291.8 486.5L292.5 487.5L293.3 488.5L294.0 489.6L294.8 490.7L295.6 491.8L296.5 493.0L297.3 494.1L298.2 495.2L299.1 496.3L300.0 497.4L301.0 498.5L302.0 499.5L303.0 500.6L304.1 501.6L305.2 502.6L306.3 503.7L307.4 504.7L308.5 505.6L309.7 506.6L310.8 507.6L312.0 508.5L313.2 509.4L314.4 510.3L315.6 511.2L316.9 512.1L318.1 512.9L319.4 513.7L320.6 514.6L321.8 515.4L322.9 516.2L324.0 517.0L325.0 517.8L326.1 518.6L327.1 519.3L328.0 520.1L329.0 520.8L329.9 521.6L330.7 522.3L331.5 523.0L332.3 523.8L333.0 524.5L333.7 525.2L334.3 525.9L335.0 526.6L335.6 527.2L336.1 527.9L336.6 528.6L337.0 529.3L337.3 530.0L337.5 530.7L337.5 531.5L337.4 532.3L337.1 533.1L336.7 534.0L336.2 534.8L335.6 535.7L334.9 536.6L334.2 537.6L333.5 538.5L332.8 539.5L332.2 540.5L331.6 541.5L330.9 542.6L330.1 543.7L329.4 544.9L328.6 546.1L327.9 547.2L327.2 548.4L326.5 549.6L325.9 550.7L325.3 551.9L324.8 553.0L324.4 554.2L324.0 555.3L323.6 556.5L323.2 557.6L322.9 558.7L322.6 559.9L322.4 561.0L322.1 562.2L321.9 563.3L321.7 564.5L321.5 565.6L321.4 566.8L321.3 568.0L321.2 569.2L321.1 570.4L321.1 571.5L321.0 572.7L320.9 573.7L320.8 574.8L320.7 575.8L320.6 576.8L320.6 577.7L320.5 578.6L320.5 579.5L320.4 580.4L320.3 581.2L320.1 582.1L319.9 583.0L319.6 583.9L319.2 584.8L318.8 585.8L318.3 586.8L317.8 587.8L317.2 588.7L316.6 589.7L316.0 590.6L315.3 591.5L314.6 592.3L313.9 593.0L313.1 593.7L312.3 594.3L311.5 594.9L310.6 595.4L309.7 595.9L308.8 596.4L307.8 596.8L306.8 597.1L305.8 597.4L304.8 597.6L303.7 597.7L302.7 597.7L301.5 597.6L300.4 597.4L299.2 597.2L298.0 597.0L296.8 596.8L295.6 596.6L294.5 596.5L293.3 596.5L292.2 596.6L291.0 596.7L289.9 596.9L288.7 597.1L287.6 597.3L286.5 597.6L285.3 597.8L284.2 598.1L283.0 598.5L281.9 598.8L280.8 599.2L279.6 599.6L278.4 600.1L277.2 600.6L276.1 601.1L274.9 601.6L273.8 602.1L272.6 602.6L271.6 603.0L270.5 603.4L269.5 603.7L268.5 604.1L267.6 604.4L266.7 604.7L265.8 604.9L264.9 605.2L264.0 605.3L263.1 605.5L262.2 605.6L261.3 605.6L260.4 605.6L259.4 605.5L258.4 605.3L257.5 605.2L256.5 604.9L255.6 604.7L254.7 604.4L253.8 604.1L253.0 603.7L252.2 603.4L251.5 603.0L250.9 602.7L250.3 602.3L249.8 601.9L249.3 601.4L248.9 600.9L248.4 600.5L247.9 599.9L247.3 599.4L246.7 598.8L246.0 598.2L245.4 597.5L244.6 596.8L243.9 596.0L243.2 595.2L242.4 594.4L241.7 593.6L240.9 592.9L240.1 592.2L239.4 591.5L238.7 590.9L238.0 590.2L237.3 589.6L236.6 589.0L235.9 588.5L235.2 587.9L234.5 587.4L233.7 586.9L232.9 586.4L232.0 586.0L231.1 585.6L230.0 585.3L229.0 585.0L227.9 584.7L226.8 584.5L225.6 584.3L224.5 584.0L223.3 583.8L222.2 583.6L221.1 583.3L220.0 583.0L218.8 582.8L217.7 582.5L216.5 582.3L215.4 582.1L214.2 581.8L213.1 581.5L212.1 581.2L211.1 580.9L210.1 580.5L209.2 580.1L208.3 579.6L207.5 579.1L206.6 578.6L205.9 578.1L205.1 577.5L204.4 576.9L203.8 576.3L203.3 575.7L202.8 575.1L202.4 574.4L202.0 573.7L201.7 573.0L201.5 572.3L201.3 571.5L201.2 570.7L201.1 570.0L201.1 569.2L201.2 568.5L201.3 567.8L201.5 567.1L201.7 566.5L202.0 565.8L202.4 565.2L202.8 564.5L203.3 563.9L203.8 563.3L204.3 562.7L204.9 562.0L205.5 561.4L206.2 560.8L207.0 560.1L207.9 559.5L208.8 558.8L209.7 558.2L210.7 557.6L211.6 556.9L212.4 556.3L213.2 555.6L213.8 555.0L214.3 554.4L214.8 553.8L215.3 553.1L215.6 552.5L216.0 551.9L216.2 551.3L216.4 550.7L216.5 550.0L216.6 549.3L216.5 548.6L216.3 547.9L216.0 547.1L215.7 546.3L215.2 545.5L214.7 544.6L214.1 543.8L213.5 542.9L212.9 542.0L212.4 541.2L211.9 540.3L211.4 539.4L210.9 538.5L210.4 537.5L209.8 536.5L209.3 535.5L208.8 534.6L208.3 533.6L208.0 532.7L207.6 531.9L207.4 531.2L207.2 530.6L207.1 530.0L207.1 529.6L207.1 529.2L207.1 528.8L207.2 528.4L207.4 528.0L207.6 527.6L207.9 527.1L208.3 526.6L208.8 526.0L209.4 525.3L210.1 524.6L210.9 523.8L211.8 523.1L212.6 522.3L213.5 521.5L214.3 520.7L215.0 520.0L215.6 519.3L216.1 518.6L216.7 517.9L217.2 517.3L217.7 516.6L218.1 516.0L218.5 515.4L218.8 514.7L219.1 514.1L219.2 513.5L219.3 512.9L219.2 512.3L219.1 511.7L218.8 511.2L218.5 510.6L218.0 510.1L217.6 509.5L217.1 509.0L216.6 508.5L216.1 507.9L215.6 507.4L215.1 506.9L214.5 506.3L213.9 505.8L213.2 505.3L212.6 504.8L211.9 504.3L211.3 503.8L210.7 503.3L210.2 502.8L209.8 502.4L209.4 502.0L209.1 501.5L208.8 501.1L208.6 500.7L208.4 500.3L208.3 499.9L208.2 499.6L208.1 499.2L208.2 498.9Z" fill="#bfdda3" stroke="#6f8a5c" stroke-width="0.9"/>
<path d="M235.0 533.6L235.4 532.5L235.8 531.4L236.2 530.2L236.7 528.9L237.2 527.7L237.8 526.5L238.4 525.3L239.1 524.2L239.9 523.1L240.7 522.2L241.6 521.4L242.6 520.6L243.7 519.9L244.8 519.2L246.0 518.6L247.2 518.1L248.4 517.6L249.7 517.2L250.9 516.8L252.2 516.5L253.5 516.2L254.8 516.0L256.2 515.9L257.6 515.8L259.1 515.8L260.5 515.8L261.9 515.9L263.3 516.0L264.6 516.2L265.9 516.5L267.2 516.8L268.4 517.2L269.6 517.7L270.8 518.2L272.0 518.8L273.2 519.4L274.3 520.1L275.3 520.8L276.4 521.5L277.3 522.2L278.2 523.0L279.2 523.8L280.1 524.7L280.9 525.7L281.8 526.7L282.5 527.7L283.1 528.6L283.6 529.6L284.0 530.5L284.2 531.3L284.2 532.1L284.1 532.8L283.8 533.6L283.4 534.3L282.8 535.0L282.2 535.6L281.6 536.3L280.9 536.9L280.2 537.6L279.6 538.2L278.9 538.8L278.2 539.4L277.3 539.9L276.5 540.5L275.6 541.0L274.7 541.5L273.9 542.1L273.0 542.6L272.3 543.2L271.6 543.9L271.0 544.6L270.4 545.3L269.9 546.1L269.3 546.9L268.9 547.7L268.4 548.5L268.0 549.3L267.6 550.2L267.3 551.0L267.0 551.9L266.7 552.8L266.5 553.6L266.3 554.5L266.1 555.3L266.0 556.2L265.9 557.1L265.9 558.1L265.8 559.0L265.9 560.0L265.9 561.0L266.0 562.1L266.1 563.2L266.3 564.4L266.5 565.7L266.7 566.9L267.0 568.2L267.3 569.4L267.6 570.5L267.9 571.6L268.2 572.5L268.6 573.3L269.0 574.1L269.5 574.8L270.1 575.4L270.6 576.0L271.1 576.5L271.6 577.0L272.0 577.5L272.2 578.0L272.3 578.5L272.3 579.0L272.2 579.5L272.0 579.9L271.8 580.4L271.4 580.8L271.0 581.2L270.5 581.5L269.9 581.9L269.3 582.1L268.5 582.3L267.6 582.4L266.6 582.5L265.4 582.6L264.1 582.6L262.8 582.6L261.4 582.5L260.0 582.4L258.6 582.2L257.3 582.0L256.0 581.8L254.7 581.5L253.4 581.2L252.1 580.9L250.8 580.5L249.4 580.0L248.1 579.6L246.9 579.0L245.7 578.5L244.5 577.9L243.5 577.2L242.5 576.5L241.6 575.7L240.7 574.9L239.9 574.1L239.1 573.2L238.4 572.2L237.7 571.2L237.1 570.2L236.5 569.1L236.0 568.0L235.6 566.8L235.2 565.5L234.9 564.1L234.7 562.7L234.5 561.2L234.4 559.8L234.2 558.3L234.1 556.9L234.0 555.5L233.9 554.2L233.8 552.9L233.7 551.7L233.6 550.5L233.5 549.3L233.4 548.2L233.4 547.0L233.3 545.9L233.3 544.8L233.4 543.7L233.4 542.7L233.5 541.7L233.5 540.8L233.6 539.9L233.7 539.0L233.8 538.1L234.0 537.3L234.2 536.4L234.4 535.5L234.7 534.6Z" fill="#8ab45e"/>
<g transform="translate(236.5 493.7) rotate(39.5)"><path d="M-9.8 -4.3L3.7 -4.3L3.7 -0.5L-7.2 -0.5Z" fill="#5cb85a"/><path d="M3.7 -4.3L9.8 -4.3L8.2 -0.5L3.7 -0.5Z" fill="#7cc878"/><path d="M-9.8 4.3L3.7 4.3L3.7 0.5L-7.2 0.5Z" fill="#5cb85a"/><path d="M3.7 4.3L9.8 4.3L8.2 0.5L3.7 0.5Z" fill="#7cc878"/></g>
<g transform="translate(294.5 485.5) rotate(128.0)"><path d="M-9.8 -4.3L3.7 -4.3L3.7 -0.5L-7.2 -0.5Z" fill="#5cb85a"/><path d="M3.7 -4.3L9.8 -4.3L8.2 -0.5L3.7 -0.5Z" fill="#7cc878"/><path d="M-9.8 4.3L3.7 4.3L3.7 0.5L-7.2 0.5Z" fill="#5cb85a"/><path d="M3.7 4.3L9.8 4.3L8.2 0.5L3.7 0.5Z" fill="#7cc878"/></g>
<text x="219" y="531" font-size="24.6">ISG<tspan font-size="13.5" dx="1.2" dy="-9" stroke-width="0.6">+</tspan><tspan dy="9" dx="-0.6"> Mac</tspan></text>
<ellipse cx="290.3" cy="564.5" rx="23.9" ry="14.2" fill="none" stroke="#1a1a1a" stroke-width="1.1"/>
<text x="289.3" y="570.3" font-size="15.7" text-anchor="middle" >CIITA</text>
<path d="M290.6 551V542.7H311M306.3 539.2L311.5 542.7L306.3 546.2" stroke="#1a1a1a" stroke-width="1" fill="none"/>
<text x="235.8" y="441.5" font-size="13.1" text-anchor="start" >MHC-II</text>
<text x="235.8" y="457.7" font-size="13.1" text-anchor="start" >Chemokines</text>
<text x="235.8" y="473.5" font-size="13.1" text-anchor="start" >etc.</text>
<text x="393.7" y="452.7" font-size="16.2" text-anchor="middle" >T cell recruitment</text>
<path d="M323 497Q350 468 392 468Q438 468 462 495.5M455 495.5L462.5 496L461.5 488.5" stroke="#1a1a1a" stroke-width="1.3" fill="none"/>
<circle cx="472.5" cy="543.8" r="39.8" fill="#fbc69c" stroke="#b8957f" stroke-width="0.9"/>
<circle cx="473.8" cy="545" r="25" fill="#f59b6b"/>
<g  fill="#e86150"><path d="M439.5 535.2Q442.7 535.4 442.7 538Q442.7 540.7 439.5 540.9L402 540.4Q397.5 540.2 395.2 541.6Q393.2 542.8 392.6 540.6Q392.2 538.4 389.5 537.9Q383.3 537.2 383.2 533Q383.3 528.7 388.6 528.7Q393.6 528.9 396 532.6Q397.6 535.3 401 535.7Z"/><path d="M439.5 548.4Q442.7 548.2 442.7 545.6Q442.7 542.9 439.5 542.7L402 543.2Q397.5 543.4 395.2 542Q393.2 540.8 392.6 543Q392.2 545.2 389.5 545.7Q383.3 546.4 383.2 550.6Q383.3 554.9 388.6 554.9Q393.6 554.7 396 551Q397.6 548.3 401 547.9Z" transform="translate(0 0.6)"/></g>
<g ><path d="M318.5 536.2H342M318.5 546.5H342" stroke="#f2a31b" stroke-width="2.3" fill="none"/><path d="M340 536.2Q340.5 531.5 345 530.3L360 529.8L376 530.3Q381.2 531 381 534Q380.5 536.5 376.5 537Q373.3 537.5 372.5 539.5L371.5 541H345Q340.5 540.5 340 536.2Z" fill="#f8cc22" stroke="#ecae12" stroke-width="0.7"/><path d="M340 547Q340.3 543.8 345 543.5H371.5L372.5 545Q373.5 546.8 376.5 547.2Q380.5 547.7 381 550.7Q381.2 554 376 554.6L360 555.2L346 554.6Q340.5 553 340 547Z" fill="#f8cc22" stroke="#ecae12" stroke-width="0.7"/></g>
<rect x="374.3" y="537.8" width="11.4" height="8.5" rx="1" fill="#4a4a4e"/>
<text x="445" y="539.5" font-size="24.3">CD4<tspan font-size="13.5" dx="1" dy="-8.8" stroke-width="0.6">+</tspan></text>
<text x="446.3" y="563.8" font-size="23.8" text-anchor="start" >T cell</text>
<text x="386.6" y="574.6" font-size="16.4" text-anchor="middle" >Activation</text>
<rect x="134.5" y="615.2" width="400" height="24.6" fill="#f6f3f3" stroke="#9a9a9a" stroke-width="1"/>
<path d="M154.3 622.3L160 632.7M169.5 622.3L164.6 632.7" stroke="#6093d0" stroke-width="3.4" fill="none"/>
<text x="173.8" y="632.0" font-size="13.0" text-anchor="start" >SLC6A2</text>
<circle cx="238.8" cy="627.9" r="2.7" fill="#35604a"/>
<text x="245.6" y="632.0" font-size="13.0" text-anchor="start" >IFN-β</text>
<g transform="translate(307.4 627.5) scale(0.82)"><g transform="translate(0.0 0.0) rotate(0.0)"><path d="M-9.2 -4.3L3.5 -4.3L3.5 -0.5L-6.7 -0.5Z" fill="#5cb85a"/><path d="M3.5 -4.3L9.2 -4.3L7.8 -0.5L3.5 -0.5Z" fill="#7cc878"/><path d="M-9.2 4.3L3.5 4.3L3.5 0.5L-6.7 0.5Z" fill="#5cb85a"/><path d="M3.5 4.3L9.2 4.3L7.8 0.5L3.5 0.5Z" fill="#7cc878"/></g></g>
<text x="317.4" y="632.0" font-size="13.0" text-anchor="start" >IFNAR1</text>
<path d="M374.5 626.3H384M374.5 630.4H384" stroke="#f2a31b" stroke-width="1.5" fill="none"/><path d="M382.2 626.2Q382.2 623.3 385 623.2H394.5Q397.4 623.3 397.3 625.3Q397.2 626.6 395.6 626.9L394.4 628.2H385Q382.3 628.2 382.2 626.2ZM382.2 630.6Q382.2 633.6 385 633.7H394.5Q397.4 633.6 397.3 631.6Q397.2 630.3 395.6 630L394.4 628.7H385Q382.3 628.7 382.2 630.6Z" fill="#f8cc22" stroke="#ecae12" stroke-width="0.4"/>
<text x="399.5" y="632.0" font-size="13.0" text-anchor="start" >MHC-II</text>
<g transform="translate(478.3 628) scale(0.365) translate(-444 -541.8)" stroke="#e86150" stroke-width="1.1" stroke-linejoin="round" fill="#e86150"><path d="M439.5 535.2Q442.7 535.4 442.7 538Q442.7 540.7 439.5 540.9L402 540.4Q397.5 540.2 395.2 541.6Q393.2 542.8 392.6 540.6Q392.2 538.4 389.5 537.9Q383.3 537.2 383.2 533Q383.3 528.7 388.6 528.7Q393.6 528.9 396 532.6Q397.6 535.3 401 535.7Z"/><path d="M439.5 548.4Q442.7 548.2 442.7 545.6Q442.7 542.9 439.5 542.7L402 543.2Q397.5 543.4 395.2 542Q393.2 540.8 392.6 543Q392.2 545.2 389.5 545.7Q383.3 546.4 383.2 550.6Q383.3 554.9 388.6 554.9Q393.6 554.7 396 551Q397.6 548.3 401 547.9Z" transform="translate(0 0.6)"/></g>
<text x="479.3" y="632.0" font-size="13.0" text-anchor="start" >TCR</text>
</svg></body></html>
